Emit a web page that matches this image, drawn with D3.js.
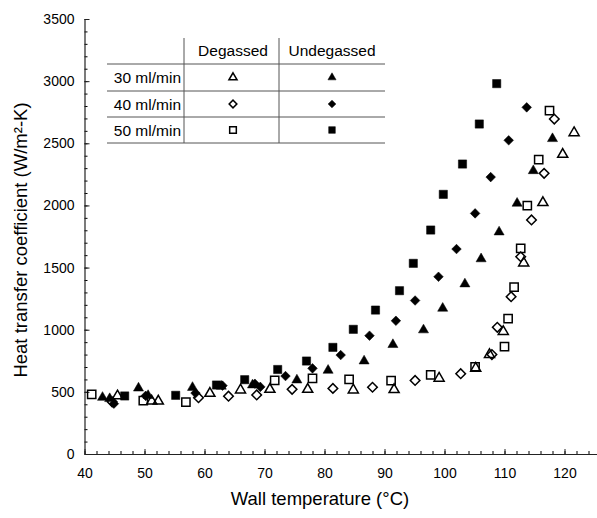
<!DOCTYPE html>
<html>
<head>
<meta charset="utf-8">
<script src="https://cdn.jsdelivr.net/npm/d3@7"></script>
<style>
  body { margin: 0; background: #fff; }
  text { font-family: "Liberation Sans", Arial, sans-serif; fill: #000; }
</style>
</head>
<body>
<div id="chart"></div>
<script>
// heat transfer coefficient vs wall temperature, degassed / undegassed
// ====================================================================

// [wall temperature (C), h (W/m2-K)]
var deg30 = [[45.5,467],[51.2,425],[52.3,425],[60.9,488],[66.0,515],[70.9,520],[77.2,520],
             [84.8,515],[91.6,518],[99.1,609],[105.2,690],[107.5,800],[109.8,985],
             [113.2,1537],[116.4,2022],[119.7,2411],[121.6,2585]];
var deg40 = [[44.6,420],[59.0,453],[64.0,465],[68.7,475],[74.6,520],[81.4,528],[88.0,537],
             [95.1,592],[102.7,646],[107.9,800],[108.8,1019],[111.1,1266],[112.7,1587],
             [114.5,1883],[116.6,2258],[118.3,2695]];
var deg50 = [[41.2,480],[49.8,430],[56.9,418],[71.7,592],[78.0,609],[84.1,601],[91.1,590],
             [97.7,636],[105.1,702],[110.0,863],[110.6,1090],[111.6,1343],[112.7,1655],
             [113.8,1998],[115.7,2368],[117.5,2762]];
var und30 = [[43.0,455],[44.2,445],[49.0,530],[50.6,470],[58.0,535],[62.8,545],[68.0,555],
             [75.4,595],[80.6,673],[86.6,748],[91.4,880],[96.5,998],[99.7,1172],
             [103.4,1368],[106.1,1570],[109.1,1786],[112.1,2017],[114.8,2279],[118.0,2537]];
var und40 = [[44.9,405],[50.2,468],[58.5,490],[63.0,550],[68.4,565],[69.3,540],[73.5,627],
             [78.0,689],[82.7,796],[87.5,952],[91.9,1072],[95.1,1235],[99.0,1426],
             [102.0,1649],[105.1,1936],[107.7,2228],[110.7,2524],[113.7,2789]];
var und50 = [[46.7,467],[55.2,472],[62.0,555],[66.7,598],[72.2,680],[77.0,748],[81.4,858],
             [84.8,1003],[88.5,1158],[92.5,1314],[94.8,1534],[97.7,1802],[99.8,2089],
             [103.0,2333],[105.8,2655],[108.7,2980]];

var xTicks = [40,50,60,70,80,90,100,110,120];
var yTicks = [0,500,1000,1500,2000,2500,3000,3500];
var flowLabels = ["30 ml/min","40 ml/min","50 ml/min"];
var groupLabels = ["Degassed","Undegassed"];

var width = 597,
    height = 518;
var margin = {top: 19, right: 0, bottom: 64, left: 84.5};

var svg = d3.select("#chart").append("svg")
    .attr("width", width)
    .attr("height", height);

var x = d3.scaleLinear()
    .domain([40, 40 + (width - margin.left) / 6.0])
    .range([margin.left, width]);
var y = d3.scaleLinear()
    .domain([0, 3500])
    .range([height - margin.bottom, margin.top]);

// axes (ticks point inward)
var xMinor = d3.range(40, 126, 2);
var yMinor = d3.range(0, 3501, 100);

svg.append("g")
    .attr("transform", "translate(0," + y(0) + ")")
    .call(d3.axisBottom(x).tickValues(xMinor).tickSize(-3).tickFormat(""))
    .call(g => g.select(".domain").remove());
svg.append("g")
    .attr("transform", "translate(" + margin.left + ",0)")
    .call(d3.axisLeft(y).tickValues(yMinor).tickSize(-3).tickFormat(""))
    .call(g => g.select(".domain").remove());

var xAxis = svg.append("g")
    .attr("transform", "translate(0," + y(0) + ")")
    .call(d3.axisBottom(x).tickValues(xTicks).tickSize(-5).tickPadding(14)
        .tickSizeOuter(0).tickFormat(d3.format("d")));
var yAxis = svg.append("g")
    .attr("transform", "translate(" + margin.left + ",0)")
    .call(d3.axisLeft(y).tickValues(yTicks).tickSize(-5).tickPadding(10)
        .tickSizeOuter(0).tickFormat(d3.format("d")));

[xAxis, yAxis].forEach(function(g) {
    g.selectAll("text").style("font-size", "14px").attr("fill", "#000");
    g.selectAll("line").attr("stroke", "#222");
    g.select(".domain").attr("stroke", "#222").attr("stroke-width", 1.2);
});

// axis titles
svg.append("text")
    .attr("x", 320).attr("y", 505)
    .attr("text-anchor", "middle")
    .style("font-size", "18.5px")
    .text("Wall temperature (°C)");
svg.append("text")
    .attr("transform", "translate(27,240) rotate(-90)")
    .attr("text-anchor", "middle")
    .style("font-size", "18.5px")
    .text("Heat transfer coefficient (W/m²-K)");

// markers
var shapes = {
    tri: {type: d3.symbolTriangle, size: 44, rot: 0},
    dia: {type: d3.symbolSquare, size: 46, rot: 45},
    sq:  {type: d3.symbolSquare, size: 68, rot: 0}
};
var series = [
    {data: deg30, shape: "tri", filled: false},
    {data: deg40, shape: "dia", filled: false},
    {data: deg50, shape: "sq",  filled: false},
    {data: und30, shape: "tri", filled: true},
    {data: und40, shape: "dia", filled: true},
    {data: und50, shape: "sq",  filled: true}
];

function drawMarker(sel, shape, filled, scale) {
    var s = shapes[shape];
    sel.attr("d", d3.symbol().type(s.type).size(s.size * scale))
       .attr("fill", filled ? "#000" : "none")
       .attr("stroke", "#000")
       .attr("stroke-width", filled ? 0.5 : 1.5);
}

series.forEach(function(s) {
    svg.append("g").selectAll("path")
        .data(s.data)
        .enter().append("path")
        .attr("transform", function(d) {
            return "translate(" + x(d[0]) + "," + y(d[1]) + ") rotate(" + shapes[s.shape].rot + ")";
        })
        .call(drawMarker, s.shape, s.filled, 1);
});

// legend table
var leg = svg.append("g");
var rowLines = [64, 91, 117, 143];
var colX = [233, 332];
rowLines.forEach(function(ly) {
    leg.append("line")
        .attr("x1", 107).attr("x2", 385)
        .attr("y1", ly).attr("y2", ly)
        .attr("stroke", "#555").attr("stroke-width", 1);
});
[184, 279].forEach(function(lx) {
    leg.append("line")
        .attr("x1", lx).attr("x2", lx)
        .attr("y1", 38).attr("y2", 143)
        .attr("stroke", "#555").attr("stroke-width", 1);
});
groupLabels.forEach(function(t, i) {
    leg.append("text")
        .attr("x", colX[i]).attr("y", 56)
        .attr("text-anchor", "middle")
        .style("font-size", "15.5px")
        .text(t);
});
flowLabels.forEach(function(t, i) {
    var cy = (rowLines[i] + rowLines[i + 1]) / 2;
    leg.append("text")
        .attr("x", 181).attr("y", cy + 5.5)
        .attr("text-anchor", "end")
        .style("font-size", "15.5px")
        .text(t);
    [false, true].forEach(function(f, j) {
        var shape = series[i].shape;
        leg.append("path")
            .attr("transform", "translate(" + colX[j] + "," + cy + ") rotate(" + shapes[shape].rot + ")")
            .call(drawMarker, shape, f, 0.65);
    });
});
</script>
</body>
</html>
